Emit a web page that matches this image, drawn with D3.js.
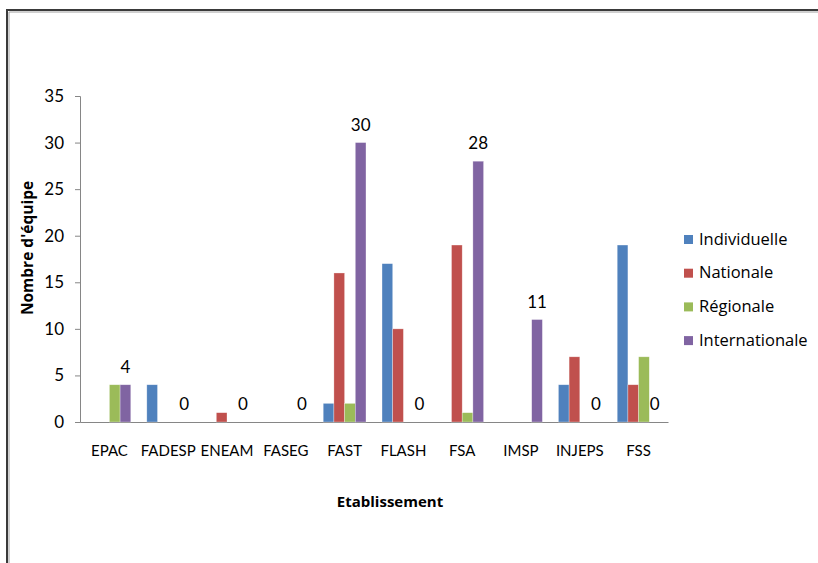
<!DOCTYPE html>
<html>
<head>
<meta charset="utf-8">
<script src="https://cdn.jsdelivr.net/npm/d3@7"></script>
<style>
  body { margin: 0; background: #fff; }
  svg { font-family: Lato, "Open Sans", sans-serif; }
  .axis text { fill: #000; }
  .axis line, .axis path { stroke: #868686; }
</style>
</head>
<body>
<div id="chart"></div>
<script>
// Data
const etablissements = ["EPAC", "FADESP", "ENEAM", "FASEG", "FAST", "FLASH", "FSA", "IMSP", "INJEPS", "FSS"];
const seriesNames = ["Individuelle", "Nationale", "Régionale", "Internationale"];
const individuelle = [0, 4, 0, 0, 2, 17, 0, 0, 4, 19];
const nationale = [0, 0, 1, 0, 16, 10, 19, 0, 7, 4];
const regionale = [4, 0, 0, 0, 2, 0, 1, 0, 0, 7];
const internationale = [4, 0, 0, 0, 30, 0, 28, 11, 0, 0];
const yTicks = [0, 5, 10, 15, 20, 25, 30, 35];
const colors = ["#4F81BD", "#C0504D", "#9BBB59", "#8064A2"];

const values = [individuelle, nationale, regionale, internationale];

const width = 818;
const height = 563;
const margin = { top: 96, right: 150, bottom: 141, left: 80 };

const svg = d3
  .select("#chart")
  .append("svg")
  .attr("width", width)
  .attr("height", height);

// Frame
svg
  .append("rect")
  .attr("x", 7)
  .attr("y", 10)
  .attr("width", width + 20)
  .attr("height", height + 20)
  .attr("fill", "none")
  .attr("stroke", "#3a3a3a")
  .attr("stroke-width", 2);
svg
  .append("path")
  .attr("d", `M9,${height + 10}V12H${width + 10}`)
  .attr("fill", "none")
  .attr("stroke", "#a0a0a0")
  .attr("stroke-width", 1);

// Scales
const x = d3
  .scaleBand()
  .domain(etablissements)
  .range([margin.left, width - margin.right]);

const barGroup = x.bandwidth() / 1.375; // gap width 150%
const xInner = d3
  .scaleBand()
  .domain(seriesNames)
  .range([(x.bandwidth() - barGroup) / 2, (x.bandwidth() + barGroup) / 2]);

const y = d3
  .scaleLinear()
  .domain([0, 35])
  .range([height - margin.bottom, margin.top]);

// Y axis
svg
  .append("g")
  .attr("class", "axis")
  .attr("transform", `translate(${margin.left},0)`)
  .call(d3.axisLeft(y).tickValues(yTicks).tickSize(5).tickPadding(11))
  .call((g) => g.selectAll("text").attr("font-size", 17).attr("font-family", "Lato"));

// X axis
svg
  .append("g")
  .attr("class", "axis")
  .attr("transform", `translate(0,${height - margin.bottom})`)
  .call(d3.axisBottom(x).tickSize(0).tickPadding(23).tickSizeOuter(0))
  .call((g) => g.selectAll("text").attr("font-size", 15).attr("font-family", "Lato"));

// Bars
const group = svg
  .append("g")
  .selectAll("g")
  .data(etablissements)
  .join("g")
  .attr("transform", (d) => `translate(${x(d)},0)`);

group
  .selectAll("rect")
  .data((d, i) => seriesNames.map((s, k) => ({ s, k, v: values[k][i] })))
  .join("rect")
  .filter((d) => d.v > 0)
  .attr("x", (d) => xInner(d.s))
  .attr("width", xInner.bandwidth())
  .attr("y", (d) => y(d.v))
  .attr("height", (d) => y(0) - y(d.v))
  .attr("fill", (d) => colors[d.k])
  .attr("stroke", "rgba(255,255,255,0.5)")
  .attr("stroke-width", 0.6);

// Data labels (Internationale)
svg
  .append("g")
  .selectAll("text")
  .data(etablissements)
  .join("text")
  .attr("x", (d) => x(d) + xInner("Internationale") + xInner.bandwidth() / 2)
  .attr("y", (d, i) => y(internationale[i]) - 12)
  .attr("text-anchor", "middle")
  .attr("font-size", 17)
  .text((d, i) => internationale[i]);

// Axis titles
svg
  .append("text")
  .attr("x", (margin.left + width - margin.right) / 2 + 16)
  .attr("y", 507)
  .attr("text-anchor", "middle")
  .attr("font-family", "'Open Sans'")
  .attr("font-size", 15)
  .attr("font-weight", "bold")
  .text("Etablissement");

svg
  .append("text")
  .attr("transform", `translate(33,${(y(0) + y(35)) / 2 - 11}) rotate(-90)`)
  .attr("text-anchor", "middle")
  .attr("font-family", "'Open Sans'")
  .attr("font-size", 15.5)
  .attr("font-weight", "bold")
  .text("Nombre d'équipe");

// Legend
const legend = svg
  .append("g")
  .selectAll("g")
  .data(seriesNames)
  .join("g")
  .attr("transform", (d, i) => `translate(684,${239 + i * 33.7})`);
legend
  .append("rect")
  .attr("x", 0)
  .attr("y", -4)
  .attr("width", 9)
  .attr("height", 9)
  .attr("fill", (d, i) => colors[i]);
legend
  .append("text")
  .attr("x", 15)
  .attr("dy", "0.35em")
  .attr("font-family", "'Open Sans'")
  .attr("font-size", 16.5)
  .text((d) => d);
</script>
</body>
</html>
